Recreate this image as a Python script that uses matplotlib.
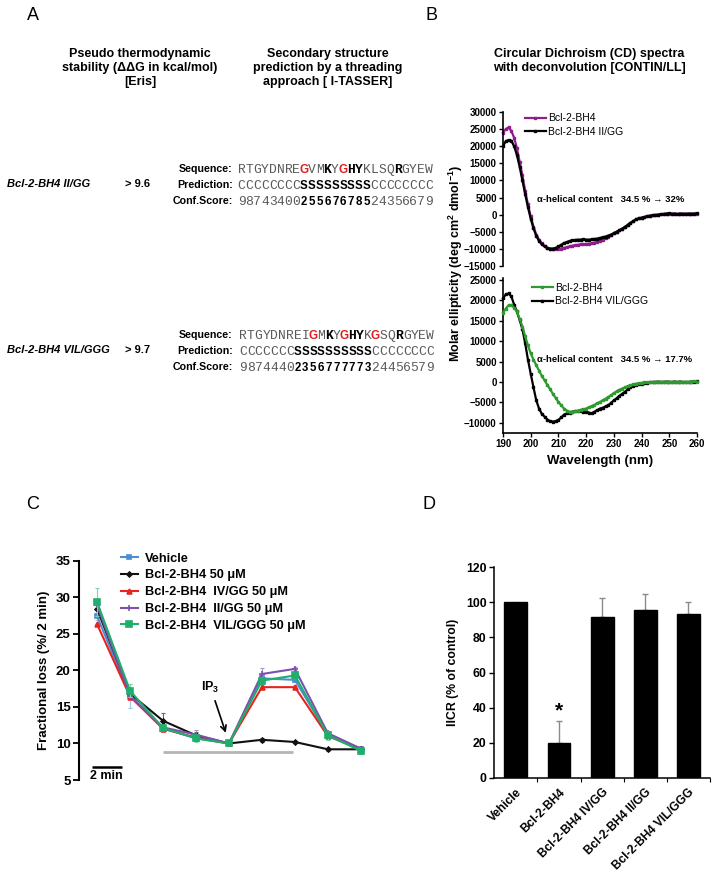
import numpy as np
import matplotlib
matplotlib.use('Agg')
import matplotlib.pyplot as plt

plt.rcParams['font.family'] = ['Liberation Sans', 'DejaVu Sans']
plt.rcParams['mathtext.fontset'] = 'custom'
plt.rcParams['mathtext.rm'] = 'Liberation Sans'
plt.rcParams['mathtext.bf'] = 'Liberation Sans:bold'

# ---------------- data ----------------
# panel A: sequences, predictions and confidence scores
seq_rows = [
    dict(name='Bcl-2-BH4 II/GG', ddg='> 9.6',
         seq='RTGYDNREGVMKYGHYKLSQRGYEW', seq_red=[8, 13], seq_bold=[11, 14, 15, 20],
         pred='CCCCCCCCSSSSSSSSSCCCCCCCC', conf='9874340025567678524356679',
         bold_range=(8, 17)),
    dict(name='Bcl-2-BH4 VIL/GGG', ddg='> 9.7',
         seq='RTGYDNREIGMKYGHYKGSQRGYEW', seq_red=[9, 13, 17], seq_bold=[11, 14, 15, 20],
         pred='CCCCCCCSSSSSSSSSSCCCCCCCC', conf='9874440235677777324456579',
         bold_range=(7, 17)),
]

# panel B: CD spectra, 190-260 nm in 1 nm steps
wavelength = np.arange(190, 261)
cd_bh4_top = [24000, 25000, 25500, 24500, 22500, 19500, 15500, 11500, 7000, 3000,
              -500, -3500, -5800, -7300, -8400, -9200, -9700, -10000, -10100, -10100,
              -10000, -9900, -9700, -9500, -9300, -9100, -8900, -8800, -8700, -8600,
              -8600, -8500, -8400, -8200, -8000, -7700, -7300, -6900, -6400, -6000,
              -5500, -5000, -4600, -4100, -3600, -3000, -2400, -1900, -1400, -1100,
              -900, -700, -500, -300, -200, -100, 0, 100, 200, 300,
              300, 200, 300, 200, 300, 200, 300, 300, 200, 300, 300]
cd_iigg = [20000, 21500, 21800, 21600, 20000, 17500, 14000, 10000, 6000, 2200,
           -1200, -4000, -6200, -7700, -8700, -9300, -9700, -9900, -9900, -9700,
           -9300, -8800, -8300, -8000, -7700, -7500, -7400, -7300, -7300, -7200,
           -7300, -7300, -7200, -7100, -7000, -6800, -6600, -6400, -6100, -5800,
           -5400, -5000, -4600, -4100, -3600, -3000, -2400, -1900, -1400, -1100,
           -900, -700, -500, -300, -200, -100, 0, 100, 200, 300,
           400, 300, 300, 200, 300, 300, 200, 300, 300, 300, 400]
cd_bh4_bot = [17000, 18000, 18800, 18900, 18200, 17300, 15500, 13600, 11200, 9000,
              7000, 5500, 4100, 2800, 1500, 400, -700, -1800, -2900, -3900,
              -4900, -5700, -6500, -7000, -7300, -7300, -7200, -7000, -6800, -6700,
              -6500, -6200, -5900, -5600, -5200, -4900, -4500, -4100, -3700, -3200,
              -2700, -2300, -1900, -1600, -1300, -1000, -800, -600, -400, -300,
              -200, -100, -100, 0, 0, 0, 100, 0, 100, 0,
              100, 0, 100, 0, -100, 0, 100, 0, 100, 200, 100]
cd_vilggg = [20500, 21500, 21700, 21000, 19000, 17300, 15200, 13000, 9500, 5500,
             2000, -1300, -4500, -6500, -7800, -8500, -9200, -9600, -9700, -9600,
             -9300, -8700, -8000, -7700, -7500, -7300, -7200, -7200, -7200, -7300,
             -7300, -7500, -7700, -7300, -6900, -6500, -6300, -6000, -5700, -5100,
             -4500, -4000, -3400, -2900, -2400, -1800, -1200, -900, -700, -500,
             -400, -300, -200, -100, 0, 0, 100, 0, 0, 100,
             0, 0, 100, 0, 100, 0, -100, 0, 100, 100, 200]

# panel C: fractional loss per 2 min interval
frame = np.arange(9)
c_labels = ['Vehicle', 'Bcl-2-BH4 50 \u03bcM', 'Bcl-2-BH4  IV/GG 50 \u03bcM',
            'Bcl-2-BH4  II/GG 50 \u03bcM', 'Bcl-2-BH4  VIL/GGG 50 \u03bcM']
c_vehicle = [27.4, 16.5, 12.1, 10.7, 10.0, 18.9, 18.7, 11.2, 9.2]
c_bh4 = [28.4, 16.8, 13.1, 11.1, 10.0, 10.5, 10.2, 9.2, 9.2]
c_ivgg = [26.3, 16.4, 12.0, 10.8, 10.0, 17.7, 17.7, 11.0, 9.2]
c_iigg = [28.9, 16.5, 12.2, 11.2, 10.0, 19.5, 20.2, 11.4, 9.3]
c_vilggg = [29.3, 17.2, 12.1, 10.7, 10.0, 18.6, 19.3, 11.1, 9.0]
c_err_vehicle = [0.5, 1.7, 0, 0, 0, 0.3, 0.3, 0.5, 0]
c_err_bh4 = [0, 0, 1.0, 0.5, 0, 0.3, 0.2, 0.2, 0.2]
c_err_ivgg = [0, 0, 0, 0, 0, 0.3, 0.3, 0, 0]
c_err_iigg = [0, 0, 0, 0.7, 0, 0.8, 0.3, 0, 0]
c_err_vilggg = [1.9, 0.9, 0, 0.5, 0, 0.5, 0.4, 0.6, 0.4]

# panel D: IICR
d_labels = ['Vehicle', 'Bcl-2-BH4', 'Bcl-2-BH4 IV/GG', 'Bcl-2-BH4 II/GG', 'Bcl-2-BH4 VIL/GGG']
d_values = [100, 19.6, 91.8, 95.6, 93.2]
d_err = [0, 12.6, 10.5, 9.0, 6.8]

# ---------------- figure ----------------
W, H = 718, 888
fig = plt.figure(figsize=(W / 100, H / 100), dpi=100)


def ftext(x, y, s, **kw):
    kw.setdefault('va', 'center')
    return fig.text(x / W, 1 - y / H, s, **kw)


def add_ax(l, t, r, b):
    return fig.add_axes([l / W, 1 - b / H, (r - l) / W, (b - t) / H])


# panel letters
for lab, x, y in [('A', 27, 16), ('B', 425, 16), ('C', 26, 504), ('D', 423, 504)]:
    ftext(x, y, lab, fontsize=13, ha='left')

# ---------------- panel A ----------------
ftext(140, 68, 'Pseudo thermodynamic\nstability (\u0394\u0394G in kcal/mol)\n[Eris]',
      fontsize=9, fontweight='bold', ha='center', linespacing=1.2)
ftext(328, 68, 'Secondary structure\nprediction by a threading\napproach [ I-TASSER]',
      fontsize=9, fontweight='bold', ha='center', linespacing=1.2)

gray = '#5a5a5a'
red = '#e0201c'
pitch = 7.8
for row, y0, x0 in zip(seq_rows, [169, 335], [237.7, 239]):
    ylab = y0 + 15
    ftext(7, ylab, row['name'], fontsize=8, fontweight='bold', style='italic', ha='left')
    ftext(125, ylab, row['ddg'], fontsize=8, fontweight='bold', ha='left')
    for k, lab in enumerate(['Sequence:', 'Prediction:', 'Conf.Score:']):
        ftext(232.5, y0 + k * 16, lab, fontsize=7.7, fontweight='bold', ha='right')
    lo, hi = row['bold_range']
    for i, ch in enumerate(row['seq']):
        xc = x0 + pitch / 2 + i * pitch
        if i in row['seq_red']:
            ftext(xc, y0 + 1, ch, fontsize=8.5, fontweight='bold', color=red, ha='center')
        elif i in row['seq_bold']:
            ftext(xc, y0 + 1, ch, family='Liberation Mono', fontsize=9.4,
                  fontweight='bold', color='black', ha='center')
        else:
            ftext(xc, y0 + 1, ch, family='Liberation Mono', fontsize=9.4,
                  color=gray, ha='center')
    for k, s in [(1, row['pred']), (2, row['conf'])]:
        for i, ch in enumerate(s):
            xc = x0 + pitch / 2 + i * pitch
            if lo <= i < hi:
                ftext(xc, y0 + k * 16 + 1, ch, fontsize=8.3, fontweight='bold',
                      color='black', ha='center')
            else:
                ftext(xc, y0 + k * 16 + 1, ch, family='Liberation Mono', fontsize=9.4,
                      color=gray, ha='center')

# ---------------- panel B ----------------
ftext(589, 61, 'Circular Dichroism (CD) spectra\nwith deconvolution [CONTIN/LL]',
      fontsize=9, fontweight='bold', ha='center', linespacing=1.2)

purple_cd = '#8e1e8e'
green_cd = '#2f9a2f'
axb1 = add_ax(503, 112, 697, 266)
axb2 = add_ax(503, 278, 697, 433)

cd_style = dict(marker='s', ms=1.9, lw=1.6, clip_on=False)
axb1.plot(wavelength, cd_bh4_top, color=purple_cd, label='Bcl-2-BH4', **cd_style)
axb1.plot(wavelength, cd_iigg, color='black', label='Bcl-2-BH4 II/GG', **cd_style)
axb2.plot(wavelength, cd_vilggg, color='black', label='Bcl-2-BH4 VIL/GGG', zorder=2,
          **cd_style)
axb2.plot(wavelength, cd_bh4_bot, color=green_cd, label='Bcl-2-BH4', zorder=3, **cd_style)

axb1.set_xlim(190, 260)
axb1.set_ylim(-15000, 30000)
axb1.set_yticks(np.arange(-15000, 30001, 5000))
axb2.set_xlim(190, 260)
axb2.set_ylim(-12500, 25500)
axb2.set_yticks(np.arange(-10000, 25001, 5000))
axb2.set_xticks(np.arange(190, 261, 10))
for ax in (axb1, axb2):
    for sp in ['top', 'right']:
        ax.spines[sp].set_visible(False)
    ax.spines['left'].set_linewidth(1.2)
    ax.spines['bottom'].set_linewidth(1.2)
    ax.tick_params(direction='out', length=3, width=1, labelsize=7, pad=1.5)
    for t in ax.get_yticklabels() + ax.get_xticklabels():
        t.set_fontweight('bold')
axb1.spines['bottom'].set_visible(False)
axb1.set_xticks([])

h, l = axb1.get_legend_handles_labels()
fig.legend(h, l, loc='center left', bbox_to_anchor=(525 / W, 1 - 125 / H),
           frameon=False, fontsize=7.5, handlelength=2.0, handletextpad=0.25,
           borderpad=0, borderaxespad=0, labelspacing=0.35)
h, l = axb2.get_legend_handles_labels()
fig.legend(h[::-1], l[::-1], loc='center left', bbox_to_anchor=(532 / W, 1 - 294.5 / H),
           frameon=False, fontsize=7.5, handlelength=2.0, handletextpad=0.25,
           borderpad=0, borderaxespad=0, labelspacing=0.35)

ftext(537, 200, '\u03b1-helical content   34.5 % \u2192 32%', fontsize=6.8,
      fontweight='bold', ha='left')
ftext(537, 359, '\u03b1-helical content   34.5 % \u2192 17.7%', fontsize=6.8,
      fontweight='bold', ha='left')
ftext(456, 263, r'Molar ellipticity (deg cm$^\mathbf{2}$ dmol$^\mathbf{-1}$)',
      fontsize=9, fontweight='bold', rotation=90, ha='center')
ftext(600, 461, 'Wavelength (nm)', fontsize=9.5, fontweight='bold', ha='center')

# ---------------- panel C ----------------
axc = add_ax(79, 560.7, 374, 780)
c_series = [c_vehicle, c_bh4, c_ivgg, c_iigg, c_vilggg]
c_errs = [c_err_vehicle, c_err_bh4, c_err_ivgg, c_err_iigg, c_err_vilggg]
c_colors = ['#4a8fd2', '#111111', '#e8221e', '#7a52ac', '#1fae6c']
c_ecolors = ['#9cc6ea', '#666666', '#f08a88', '#a892cc', '#7fd6ab']
c_markers = ['s', 'D', '^', '+', 's']
c_ms = [3.5, 2.5, 3.5, 4.5, 4]
for vals, err, col, ecol, mk, ms, lab in zip(c_series, c_errs, c_colors, c_ecolors,
                                              c_markers, c_ms, c_labels):
    axc.errorbar(frame, vals, yerr=err, fmt='none', ecolor=ecol, elinewidth=0.8,
                 capsize=1.5, capthick=0.8)
    axc.plot(frame, vals, color=col, marker=mk, ms=ms, lw=1.5, mew=1.2, label=lab)

axc.set_xlim(-0.55, 8.4)
axc.set_ylim(5, 35)
axc.set_yticks(np.arange(5, 36, 5))
axc.set_xticks([])
for sp in ['top', 'right', 'bottom']:
    axc.spines[sp].set_visible(False)
axc.spines['left'].set_linewidth(1.5)
axc.tick_params(axis='y', direction='out', length=4, width=1.3, labelsize=9.5, pad=2)
for t in axc.get_yticklabels():
    t.set_fontweight('bold')
axc.set_ylabel('Fractional loss (%/ 2 min)', fontsize=9.5, fontweight='bold', labelpad=4)

# stimulus bar, IP3 arrow and time scale bar
axc.plot([2, 5.95], [8.87, 8.87], color='#b4b4b4', lw=2, solid_capstyle='butt')
axc.annotate('', xy=(3.93, 11.1), xytext=(3.55, 16.2),
             arrowprops=dict(arrowstyle='->', color='black', lw=1.2))
axc.text(3.42, 17.6, r'$\mathbf{IP_3}$', fontsize=9, ha='center', va='center')
axc.plot([-0.17, 0.74], [6.8, 6.8], color='black', lw=1.8, clip_on=False,
         solid_capstyle='butt')
axc.text(0.28, 5.6, '2 min', fontsize=9, fontweight='bold', ha='center', va='center')

axc.legend(loc='upper left', bbox_to_anchor=(121 / W, 1 - 552.5 / H),
           bbox_transform=fig.transFigure, frameon=False,
           handlelength=1.3, handletextpad=0.6, borderpad=0, borderaxespad=0,
           labelspacing=0.38, prop=dict(weight='bold', size=9.2))

# ---------------- panel D ----------------
axd = add_ax(494.3, 567.3, 710, 777.7)
xd = np.arange(len(d_labels))
axd.bar(xd, d_values, width=0.53, color='black', edgecolor='black', zorder=2)
axd.errorbar(xd[1:], d_values[1:], yerr=[np.zeros(4), d_err[1:]], fmt='none',
             ecolor='#8a8a8a', elinewidth=1, capsize=2, capthick=1, zorder=1)
axd.text(1, 38, '*', fontsize=15, fontweight='bold', ha='center', va='center')
axd.set_xlim(-0.5, 4.5)
axd.set_ylim(0, 120)
axd.set_yticks(np.arange(0, 121, 20))
axd.set_xticks(xd)
axd.set_xticks(np.arange(0.5, 4.6, 1), minor=True)
axd.set_xticklabels(d_labels, rotation=45, ha='right', va='top', rotation_mode='anchor',
                    fontsize=8.6, fontweight='bold')
axd.tick_params(axis='x', which='major', length=0, pad=6)
axd.tick_params(axis='x', which='minor', length=3, width=0.8, direction='out')
axd.tick_params(axis='y', direction='out', length=3.5, width=1, labelsize=8.8, pad=2)
for t in axd.get_yticklabels():
    t.set_fontweight('bold')
for sp in ['top', 'right']:
    axd.spines[sp].set_visible(False)
axd.spines['left'].set_linewidth(1.1)
axd.spines['bottom'].set_linewidth(1.1)
axd.set_ylabel('IICR (% of control)', fontsize=8.8, fontweight='bold', labelpad=5)

fig.savefig('out.png', dpi=100)
